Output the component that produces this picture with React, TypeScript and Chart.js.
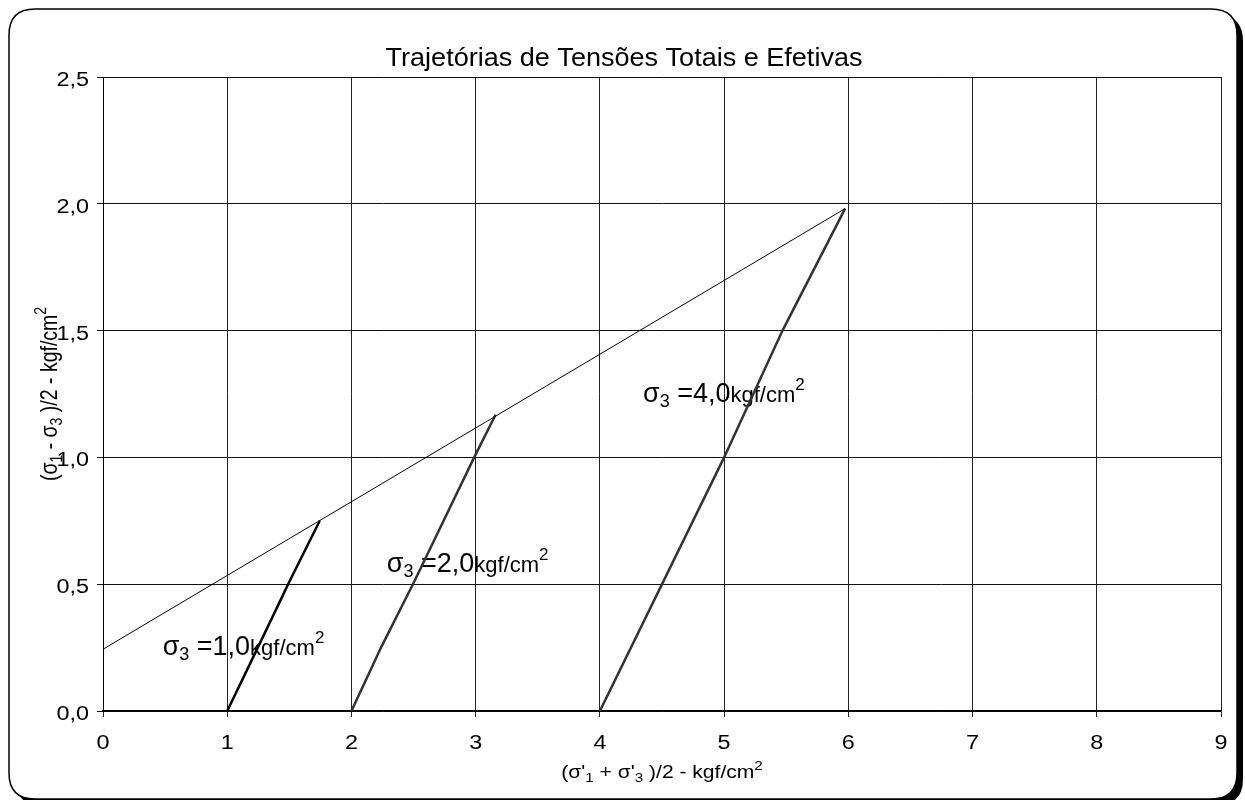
import React, { useEffect, useRef } from "react";
import { Chart, registerables } from "chart.js";

Chart.register(...registerables);

// ---- data ----
const xMin = 0;
const xMax = 9;
const xStep = 1;
const yMin = 0;
const yMax = 2.5;
const yStep = 0.5;

const envelopeX = [0, 5.974];
const envelopeY = [0.2435, 1.981];

const path1X = [1.0, 1.246, 1.437, 1.49, 1.745];
const path1Y = [0.0, 0.25, 0.445, 0.5, 0.75];

const path2X = [2.0, 2.242, 2.495, 2.988, 3.16];
const path2Y = [0.0, 0.254, 0.5, 1.0, 1.168];

const path3X = [4.0, 5.0, 5.47, 5.974];
const path3Y = [0.0, 1.0, 1.5, 1.981];

const sigmaLabels = ["1,0", "2,0", "4,0"];
const sigmaLabelX = [0.48, 2.285, 4.347];
const sigmaLabelY = [0.221, 0.549, 1.22];

const titleText = "Trajetórias de Tensões Totais e Efetivas";

const FONT = '"Liberation Sans", Arial, sans-serif';

const toPts = (xs: number[], ys: number[]) => xs.map((x, i) => ({ x, y: ys[i] }));
const fmtY = (v: number) => v.toFixed(1).replace(".", ",");
const fmtX = (v: number) => String(v);

type Part = { t: string; size: number; dy?: number };

function measureParts(ctx: CanvasRenderingContext2D, parts: Part[]) {
  let w = 0;
  for (const p of parts) {
    ctx.font = `${p.size}px ${FONT}`;
    w += ctx.measureText(p.t).width;
  }
  return w;
}

function drawParts(ctx: CanvasRenderingContext2D, parts: Part[], x: number, y: number) {
  let cx = x;
  ctx.textBaseline = "alphabetic";
  ctx.textAlign = "left";
  for (const p of parts) {
    ctx.font = `${p.size}px ${FONT}`;
    ctx.fillText(p.t, cx, y + (p.dy || 0));
    cx += ctx.measureText(p.t).width;
  }
}

// draw text with a horizontal stretch, anchored by align at (x, y baseline)
function drawStretched(
  ctx: CanvasRenderingContext2D,
  text: string,
  size: number,
  sx: number,
  x: number,
  y: number,
  align: "left" | "center" | "right"
) {
  ctx.save();
  ctx.translate(x, y);
  ctx.scale(sx, 1);
  ctx.font = `${size}px ${FONT}`;
  ctx.textAlign = align;
  ctx.textBaseline = "alphabetic";
  ctx.fillText(text, 0, 0);
  ctx.restore();
}

const framePlugin = {
  id: "frame",
  beforeDraw(chart: any) {
    const ctx = chart.ctx as CanvasRenderingContext2D;
    ctx.save();
    const x = 9, y = 9, w = 1228, h = 790, r = 26;
    const rr = (ox: number, oy: number) => {
      ctx.beginPath();
      ctx.moveTo(ox + r, oy);
      ctx.lineTo(ox + w - r, oy);
      ctx.quadraticCurveTo(ox + w, oy, ox + w, oy + r);
      ctx.lineTo(ox + w, oy + h - r);
      ctx.quadraticCurveTo(ox + w, oy + h, ox + w - r, oy + h);
      ctx.lineTo(ox + r, oy + h);
      ctx.quadraticCurveTo(ox, oy + h, ox, oy + h - r);
      ctx.lineTo(ox, oy + r);
      ctx.quadraticCurveTo(ox, oy, ox + r, oy);
      ctx.closePath();
    };
    ctx.fillStyle = "#fff";
    ctx.fillRect(0, 0, chart.width, chart.height);
    rr(x + 6, y + 6);
    ctx.fillStyle = "#000";
    ctx.fill();
    rr(x, y);
    ctx.fillStyle = "#fff";
    ctx.fill();
    ctx.lineWidth = 1.5;
    ctx.strokeStyle = "#000";
    ctx.stroke();
    ctx.restore();
  },
  beforeDatasetsDraw(chart: any) {
    const ctx = chart.ctx as CanvasRenderingContext2D;
    const xs = chart.scales.x;
    const ys = chart.scales.y;
    ctx.save();
    ctx.fillStyle = "#000";
    sigmaLabels.forEach((lab, i) => {
      const px = xs.getPixelForValue(sigmaLabelX[i]);
      const py = ys.getPixelForValue(sigmaLabelY[i]);
      drawParts(
        ctx,
        [
          { t: "σ", size: 27 },
          { t: "3", size: 18, dy: 5 },
          { t: " =" + lab, size: 27 },
          { t: "kgf/cm", size: 22 },
          { t: "2", size: 17, dy: -12 },
        ],
        px,
        py
      );
    });
    ctx.restore();
  },
  afterDraw(chart: any) {
    const ctx = chart.ctx as CanvasRenderingContext2D;
    const area = chart.chartArea;
    const xs = chart.scales.x;
    const ys = chart.scales.y;
    ctx.save();
    ctx.fillStyle = "#000";

    // tick labels
    xs.ticks.forEach((t: any) => {
      const px = xs.getPixelForValue(t.value);
      drawStretched(ctx, fmtX(t.value), 20, 1.17, px, 749, "center");
    });
    ys.ticks.forEach((t: any) => {
      const py = ys.getPixelForValue(t.value);
      drawStretched(ctx, fmtY(t.value), 20, 1.17, 89, py + 9, "right");
    });

    // title
    drawStretched(ctx, titleText, 26, 1.04, 624, 66, "center");

    // x axis title
    const xParts: Part[] = [
      { t: "(σ'", size: 18 },
      { t: "1", size: 13, dy: 4 },
      { t: " + σ'", size: 18 },
      { t: "3", size: 13, dy: 4 },
      { t: " )/2 - kgf/cm", size: 18 },
      { t: "2", size: 13, dy: -8 },
    ];
    const xw = measureParts(ctx, xParts);
    ctx.save();
    ctx.translate((area.left + area.right) / 2, 778);
    ctx.scale(1.17, 1);
    drawParts(ctx, xParts, -xw / 2, 0);
    ctx.restore();

    // y axis title
    const yParts: Part[] = [
      { t: "(σ", size: 19.5 },
      { t: "1", size: 14, dy: 4 },
      { t: " - σ", size: 19.5 },
      { t: "3", size: 14, dy: 4 },
      { t: " )/2 - kgf/cm", size: 19.5 },
      { t: "2", size: 14, dy: -9 },
    ];
    const yw = measureParts(ctx, yParts);
    ctx.save();
    ctx.translate(57, (area.top + area.bottom) / 2);
    ctx.scale(1.2, 1);
    ctx.rotate(-Math.PI / 2);
    drawParts(ctx, yParts, -yw / 2, 0);
    ctx.restore();

    ctx.restore();
  },
};

export default function App() {
  const ref = useRef<HTMLCanvasElement | null>(null);

  useEffect(() => {
    document.body.style.margin = "0";
    const canvas = ref.current;
    if (!canvas) return;
    const lineDs = (label: string, xs: number[], ys: number[], color: string, width: number) => ({
      label,
      data: toPts(xs, ys),
      borderColor: color,
      backgroundColor: color,
      borderWidth: width,
      pointRadius: 0,
      showLine: true,
      fill: false,
      tension: 0,
    });
    const chart = new Chart(canvas, {
      type: "scatter",
      data: {
        datasets: [
          lineDs("envelope", envelopeX, envelopeY, "#000", 1),
          lineDs("σ3=1,0", path1X, path1Y, "#000", 2.5),
          lineDs("σ3=2,0", path2X, path2Y, "#333", 2.5),
          lineDs("σ3=4,0", path3X, path3Y, "#333", 2.5),
        ],
      },
      options: {
        responsive: false,
        animation: false,
        events: [],
        layout: { padding: { top: 77, right: 24, left: 0, bottom: 0 } },
        plugins: {
          legend: { display: false },
          title: { display: false },
          tooltip: { enabled: false },
        },
        scales: {
          x: {
            type: "linear",
            min: xMin,
            max: xMax,
            ticks: {
              stepSize: xStep,
              display: false,
              maxRotation: 0,
            },
            grid: { color: "#222", lineWidth: 1, tickLength: 6, drawTicks: true },
            border: { display: true, color: "#000", width: 1.5 },
            afterFit: (s: any) => {
              s.height = 89;
            },
          },
          y: {
            type: "linear",
            min: yMin,
            max: yMax,
            ticks: {
              stepSize: yStep,
              display: false,
            },
            grid: { color: "#111", lineWidth: 1, tickLength: 6, drawTicks: true },
            border: { display: true, color: "#000", width: 1 },
            afterFit: (s: any) => {
              s.width = 103;
            },
          },
        },
      },
      plugins: [framePlugin],
    } as any);
    return () => chart.destroy();
  }, []);

  return (
    <div style={{ position: "absolute", left: 0, top: 0, width: 1245, height: 800 }}>
      <canvas ref={ref} width={1245} height={800} style={{ display: "block" }} />
    </div>
  );
}
